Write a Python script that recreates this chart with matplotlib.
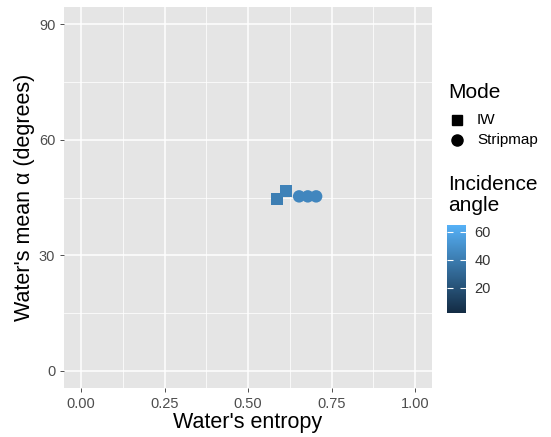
import matplotlib
matplotlib.use("Agg")
import matplotlib.pyplot as plt
import numpy as np
from matplotlib.colors import LinearSegmentedColormap, Normalize
from matplotlib.lines import Line2D

plt.rcParams['font.family'] = ['Liberation Sans', 'DejaVu Sans']

# Data
iw_entropy = [0.587, 0.614]
iw_alpha = [44.6, 46.6]
iw_angle = [41, 43]
sm_entropy = [0.653, 0.679, 0.704]
sm_alpha = [45.3, 45.3, 45.3]
sm_angle = [45, 45, 45]
angle_min, angle_max = 2, 65
x_ticks = [0.00, 0.25, 0.50, 0.75, 1.00]
x_ticklabels = ["0.00", "0.25", "0.50", "0.75", "1.00"]
y_ticks = [0, 30, 60, 90]

cmap = LinearSegmentedColormap.from_list("gg", ["#132B43", "#56B1F7"])
norm = Normalize(vmin=angle_min, vmax=angle_max)

fig = plt.figure(figsize=(5.51, 4.37), dpi=100)
ax = fig.add_axes([0.1167, 0.112, 0.6668, 0.872])
ax.set_facecolor("#E5E5E5")
for s in ax.spines.values():
    s.set_visible(False)

ax.set_xlim(-0.05, 1.05)
ax.set_ylim(-4.5, 94.5)
ax.set_xticks(x_ticks)
ax.set_xticklabels(x_ticklabels)
ax.set_yticks(y_ticks)
ax.set_xticks([0.125, 0.375, 0.625, 0.875], minor=True)
ax.set_yticks([15, 45, 75], minor=True)
ax.grid(which="major", color="white", linewidth=1.1)
ax.grid(which="minor", color="white", linewidth=0.55)
ax.set_axisbelow(True)
ax.tick_params(which="major", length=3, color="#333333", labelcolor="#4D4D4D", labelsize=10.5, width=0.6)
ax.tick_params(which="minor", length=0)

ax.scatter(iw_entropy, iw_alpha, c=iw_angle, cmap=cmap, norm=norm, marker="s", s=75, linewidths=0, zorder=3)
ax.scatter(sm_entropy, sm_alpha, c=sm_angle, cmap=cmap, norm=norm, marker="o", s=80, linewidths=0, zorder=3)

ax.set_xlabel("Water's entropy", fontsize=15.5, color="black", labelpad=1)
ax.set_ylabel("Water's mean \u03b1 (degrees)", fontsize=15.5, color="black", labelpad=3)

# Legend: Mode
fig.text(448/551, 1 - 93/437, "Mode", fontsize=15, va="center", ha="left")
fig.add_artist(Line2D([457/551], [1 - 120/437], marker="s", markersize=7.5, color="black", linestyle="none", transform=fig.transFigure))
fig.add_artist(Line2D([457/551], [1 - 140/437], marker="o", markersize=8, color="black", linestyle="none", transform=fig.transFigure))
fig.text(477/551, 1 - 120/437, "IW", fontsize=11, va="center", ha="left")
fig.text(477/551, 1 - 140/437, "Stripmap", fontsize=11, va="center", ha="left")

# Legend: colourbar
fig.text(448/551, 1 - 195/437, "Incidence\nangle", fontsize=15, va="center", ha="left", linespacing=1.1)
cax = fig.add_axes([447/551, 1 - 313/437, 19/551, 88/437])
cb = fig.colorbar(plt.cm.ScalarMappable(norm=norm, cmap=cmap), cax=cax)
cb.outline.set_visible(False)
cb.set_ticks([20, 40, 60])
cax.tick_params(direction="in", color="white", left=True, right=True, length=4, width=0.8, labelsize=10.5, labelcolor="#333333", pad=6)

fig.savefig("out.png", dpi=100)
